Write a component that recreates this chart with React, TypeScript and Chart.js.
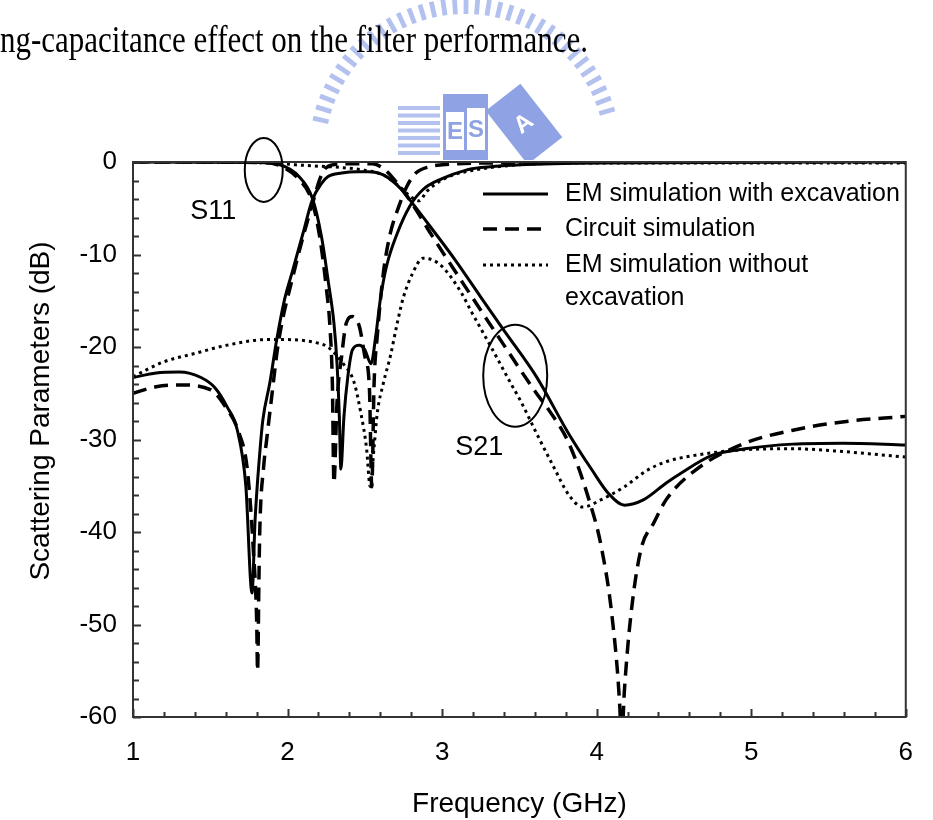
import React, { useEffect, useRef } from "react";
import { Chart, registerables } from "chart.js";

Chart.register(...registerables);

// ---------- text ----------
const CAPTION = "ng-capacitance effect on the filter performance.";
const X_TITLE = "Frequency (GHz)";
const Y_TITLE = "Scattering Parameters (dB)";
const LEGEND_LABELS: string[][] = [
  ["EM simulation with excavation"],
  ["Circuit simulation"],
  ["EM simulation without", "excavation"],
];
const ANNOTATIONS = [
  { text: "S11", x: 1.52, y: -5.4, ex: 1.846, ey: -0.86, rx: 19, ry: 32 },
  { text: "S21", x: 3.24, y: -30.9, ex: 3.473, ey: -23.1, rx: 32, ry: 51 },
];

// ---------- axes ----------
const X_MIN = 1;
const X_MAX = 6;
const Y_MIN = -60;
const Y_MAX = 0;
const X_STEP = 1;
const Y_STEP = 10;
const X_MINOR = 0.2;
const Y_MINOR = 2;

// ---------- data: EM simulation with excavation ----------
const EM_EXC_S21_F = [1.0, 1.15, 1.3, 1.44, 1.53, 1.61, 1.675, 1.73, 1.77, 1.79, 1.82, 1.84, 1.885, 1.93, 1.98, 2.03, 2.1, 2.16, 2.22, 2.26, 2.35, 2.45, 2.52, 2.62, 2.73, 2.81, 2.94, 3.085, 3.25, 3.4, 3.61, 3.82, 3.97, 4.075, 4.18, 4.305, 4.45, 4.54, 4.75, 4.96, 5.27, 5.59, 6.0];
const EM_EXC_S21_DB = [-23.3, -22.8, -22.7, -23.3, -24.4, -26.5, -29.0, -35.0, -46.6, -38.7, -31.5, -27.9, -23.9, -19.2, -14.9, -11.9, -7.7, -4.1, -2.3, -1.6, -1.2, -1.05, -1.05, -1.4, -2.85, -4.5, -7.35, -10.6, -14.6, -18.2, -23.2, -29.4, -33.3, -35.8, -37.1, -36.5, -34.7, -33.7, -31.7, -31.0, -30.5, -30.4, -30.6];
const EM_EXC_S11_F = [1.0, 1.8, 1.95, 2.075, 2.16, 2.22, 2.265, 2.3, 2.32, 2.335, 2.345, 2.365, 2.39, 2.42, 2.465, 2.5, 2.54, 2.57, 2.6, 2.64, 2.71, 2.79, 2.875, 3.0, 3.15, 3.25, 3.5, 4.0, 6.0];
const EM_EXC_S11_DB = [0, -0.05, -0.3, -1.6, -3.9, -8.1, -13.1, -17.4, -21.8, -27.5, -33.2, -27.5, -23.2, -20.3, -19.8, -20.3, -21.8, -18.9, -14.9, -11.3, -7.7, -4.8, -3.0, -1.8, -0.9, -0.6, -0.3, -0.1, 0];

// ---------- data: circuit simulation ----------
const CIRCUIT_S21_F = [1.0, 1.15, 1.3, 1.5, 1.6, 1.686, 1.74, 1.78, 1.8, 1.806, 1.815, 1.82, 1.845, 1.865, 1.9, 1.94, 2.04, 2.11, 2.17, 2.21, 2.25, 2.35, 2.55, 2.62, 2.71, 2.79, 2.94, 3.19, 3.4, 3.61, 3.69, 3.82, 3.95, 4.03, 4.1, 4.15, 4.16, 4.18, 4.22, 4.285, 4.37, 4.45, 4.64, 4.96, 5.27, 5.59, 6.0];
const CIRCUIT_S21_DB = [-25.0, -24.3, -24.1, -24.6, -26.5, -29.3, -33.3, -42.3, -49.5, -55.0, -45.0, -40.0, -33.0, -30.0, -25.0, -19.6, -12.0, -7.5, -4.0, -1.8, -0.6, -0.2, -0.2, -0.7, -2.3, -4.1, -8.1, -14.5, -19.8, -25.0, -26.8, -30.4, -36.5, -41.6, -49.2, -59.0, -63.0, -57.0, -49.2, -42.0, -39.0, -36.5, -33.3, -30.4, -29.0, -28.1, -27.5];
const CIRCUIT_S11_F = [1.0, 1.85, 1.95, 2.07, 2.16, 2.21, 2.25, 2.275, 2.29, 2.3, 2.32, 2.35, 2.38, 2.42, 2.465, 2.5, 2.53, 2.545, 2.56, 2.58, 2.62, 2.665, 2.72, 2.77, 2.83, 2.92, 3.0, 3.3, 6.0];
const CIRCUIT_S11_DB = [0, -0.05, -0.4, -1.8, -4.3, -8.3, -13.5, -18.0, -24.0, -34.7, -26.0, -21.0, -17.4, -16.7, -17.8, -21.0, -24.6, -35.1, -23.9, -18.9, -12.0, -7.7, -4.8, -2.7, -1.2, -0.5, -0.3, -0.1, 0];

// ---------- data: EM simulation without excavation ----------
const EM_NOEXC_S21_F = [1.0, 1.2, 1.4, 1.61, 1.865, 2.0, 2.2, 2.26, 2.36, 2.43, 2.475, 2.51, 2.535, 2.56, 2.58, 2.62, 2.665, 2.71, 2.75, 2.81, 2.875, 2.94, 3.0, 3.06, 3.13, 3.19, 3.25, 3.32, 3.44, 3.51, 3.61, 3.72, 3.82, 3.91, 4.03, 4.18, 4.33, 4.45, 4.64, 4.96, 5.27, 5.59, 6.0];
const EM_NOEXC_S21_DB = [-23.2, -21.6, -20.7, -19.8, -19.2, -19.2, -19.6, -20.0, -21.8, -23.8, -27.2, -30.8, -35.1, -30.8, -27.2, -23.9, -21.0, -17.4, -14.6, -12.0, -10.4, -10.6, -11.3, -12.5, -14.3, -16.2, -18.0, -20.1, -23.8, -25.9, -29.3, -32.9, -36.0, -37.3, -36.5, -35.1, -33.3, -32.4, -31.7, -31.1, -31.0, -31.3, -31.9];
const EM_NOEXC_S11_F = [1.0, 1.9, 2.05, 2.2, 2.35, 2.5, 2.62, 2.72, 2.8, 2.85, 2.9, 2.94, 3.04, 3.2, 3.5, 4.0, 6.0];
const EM_NOEXC_S11_DB = [0, -0.1, -0.3, -0.45, -0.6, -0.9, -1.4, -2.6, -3.8, -4.2, -3.2, -2.6, -1.6, -0.9, -0.3, -0.1, -0.1];

const FONT = '"Liberation Sans", Arial, Helvetica, sans-serif';

const SOLID: number[] = [];
const DASHED = [14, 8];
const DOTTED = [3, 4];

function pts(f: number[], db: number[]) {
  return f.map((x, i) => ({ x, y: db[i] }));
}

function drawLogo(ctx: CanvasRenderingContext2D) {
  ctx.save();
  ctx.beginPath();
  ctx.rect(0, 0, 933, 160);
  ctx.clip();
  const light = "#b3c1ef";
  const dark = "#8ea2e4";
  const cx = 465;
  const cy = 153;
  ctx.fillStyle = light;
  for (let a = 193; a <= 347; a += 4.3) {
    const r = (a * Math.PI) / 180;
    ctx.save();
    ctx.translate(cx + Math.cos(r) * 148, cy + Math.sin(r) * 147);
    ctx.rotate(r);
    ctx.fillRect(-8, -2.4, 16, 4.8);
    ctx.restore();
  }
  // striped building
  ctx.fillStyle = light;
  for (let i = 0; i < 7; i++) ctx.fillRect(398, 106 + i * 7.5, 42, 4);
  // E / S block
  ctx.fillStyle = dark;
  ctx.fillRect(443, 94, 45, 68);
  ctx.fillStyle = "#ffffff";
  ctx.fillRect(446, 112, 18, 38);
  ctx.fillRect(467, 108, 18, 42);
  ctx.fillStyle = dark;
  ctx.font = "bold 24px " + FONT;
  ctx.textAlign = "center";
  ctx.textBaseline = "middle";
  ctx.fillText("E", 455, 132);
  ctx.fillText("S", 476, 130);
  // A block
  ctx.save();
  ctx.translate(524, 124);
  ctx.rotate((-38 * Math.PI) / 180);
  ctx.fillStyle = dark;
  ctx.fillRect(-22, -34, 44, 68);
  ctx.fillStyle = "#ffffff";
  ctx.fillText("A", 0, 0);
  ctx.restore();
  ctx.restore();
}

const decorPlugin = {
  id: "decor",
  beforeDraw(chart: any) {
    const ctx = chart.ctx as CanvasRenderingContext2D;
    ctx.save();
    ctx.fillStyle = "#ffffff";
    ctx.fillRect(0, 0, chart.width, chart.height);
    ctx.restore();
    drawLogo(ctx);
  },
  afterDatasetsDraw(chart: any) {
    const ctx = chart.ctx as CanvasRenderingContext2D;
    const a = chart.chartArea;
    const xs = chart.scales.x;
    const ys = chart.scales.y;
    ctx.save();
    // frame
    ctx.strokeStyle = "#333333";
    ctx.lineWidth = 2;
    ctx.setLineDash([]);
    ctx.strokeRect(a.left, a.top, a.right - a.left, a.bottom - a.top);
    // inward ticks
    ctx.beginPath();
    const nx = Math.round((X_MAX - X_MIN) / X_MINOR);
    for (let i = 0; i <= nx; i++) {
      const v = X_MIN + i * X_MINOR;
      const px = Math.round(xs.getPixelForValue(v)) + 0.5;
      const len = i % Math.round(X_STEP / X_MINOR) === 0 ? 8 : 5;
      ctx.moveTo(px, a.bottom);
      ctx.lineTo(px, a.bottom - len);
    }
    const ny = Math.round((Y_MAX - Y_MIN) / Y_MINOR);
    for (let i = 0; i <= ny; i++) {
      const v = Y_MAX - i * Y_MINOR;
      const py = Math.round(ys.getPixelForValue(v)) + 0.5;
      const len = i % Math.round(Y_STEP / Y_MINOR) === 0 ? 8 : 6;
      ctx.moveTo(a.left, py);
      ctx.lineTo(a.left + len, py);
    }
    ctx.stroke();

    // annotations
    ctx.strokeStyle = "#000000";
    ctx.fillStyle = "#000000";
    ctx.lineWidth = 2;
    ctx.font = "27px " + FONT;
    ctx.textAlign = "center";
    ctx.textBaseline = "middle";
    for (const an of ANNOTATIONS) {
      ctx.beginPath();
      ctx.ellipse(xs.getPixelForValue(an.ex), ys.getPixelForValue(an.ey), an.rx, an.ry, 0, 0, Math.PI * 2);
      ctx.stroke();
      ctx.fillText(an.text, xs.getPixelForValue(an.x), ys.getPixelForValue(an.y));
    }

    // legend
    ctx.font = "25px " + FONT;
    ctx.textAlign = "left";
    ctx.textBaseline = "middle";
    const rows = [194, 229, 265];
    LEGEND_LABELS.forEach((lines, i) => {
      const ds = chart.data.datasets[i];
      const y = rows[i];
      ctx.save();
      ctx.strokeStyle = ds.borderColor;
      ctx.lineWidth = ds.borderWidth;
      ctx.setLineDash(ds.borderDash || []);
      ctx.beginPath();
      ctx.moveTo(483, y);
      ctx.lineTo(548, y);
      ctx.stroke();
      ctx.restore();
      lines.forEach((t, j) => ctx.fillText(t, 565, y + j * 33));
    });

    // axis titles
    ctx.font = "28px " + FONT;
    ctx.textAlign = "center";
    ctx.textBaseline = "middle";
    ctx.fillText(X_TITLE, (a.left + a.right) / 2, 804);
    ctx.save();
    ctx.translate(41, 411);
    ctx.rotate(-Math.PI / 2);
    ctx.fillText(Y_TITLE, 0, 0);
    ctx.restore();
    ctx.restore();
  },
};

export default function App() {
  const ref = useRef<HTMLCanvasElement | null>(null);
  useEffect(() => {
    if (!ref.current) return;
    const mk = (f: number[], db: number[], dash: number[], width: number) => ({
      data: pts(f, db),
      borderColor: "#000000",
      backgroundColor: "#000000",
      borderWidth: width,
      borderDash: dash,
      borderCapStyle: "butt",
      cubicInterpolationMode: "monotone",
      pointRadius: 0,
      fill: false,
    });
    const chart = new Chart(ref.current, {
      type: "line",
      data: {
        datasets: [
          mk(EM_EXC_S21_F, EM_EXC_S21_DB, SOLID, 3),
          mk(CIRCUIT_S21_F, CIRCUIT_S21_DB, DASHED, 3.5),
          mk(EM_NOEXC_S21_F, EM_NOEXC_S21_DB, DOTTED, 3),
          mk(EM_EXC_S11_F, EM_EXC_S11_DB, SOLID, 3),
          mk(CIRCUIT_S11_F, CIRCUIT_S11_DB, DASHED, 3.5),
          mk(EM_NOEXC_S11_F, EM_NOEXC_S11_DB, DOTTED, 3),
        ] as any,
      },
      options: {
        responsive: false,
        animation: false,
        events: [],
        layout: { padding: { left: 0, right: 8, top: 162, bottom: 0 } },
        plugins: { legend: { display: false }, tooltip: { enabled: false }, title: { display: false } },
        scales: {
          x: {
            type: "linear",
            min: X_MIN,
            max: X_MAX,
            afterFit: (s: any) => {
              s.height = 103;
            },
            grid: { display: false, drawTicks: false },
            border: { display: false },
            ticks: {
              stepSize: X_STEP,
              padding: 20,
              maxRotation: 0,
              autoSkip: false,
              color: "#000000",
              font: { family: FONT, size: 26 },
              callback: (v: any) => String(v),
            },
          },
          y: {
            type: "linear",
            min: Y_MIN,
            max: Y_MAX,
            afterFit: (s: any) => {
              s.width = 133;
            },
            grid: { display: false, drawTicks: false },
            border: { display: false },
            ticks: {
              stepSize: Y_STEP,
              padding: 16,
              autoSkip: false,
              color: "#000000",
              font: { family: FONT, size: 26 },
              callback: (v: any) => String(v),
            },
          },
        },
      } as any,
      plugins: [decorPlugin],
    });
    return () => chart.destroy();
  }, []);

  return (
    <div style={{ position: "absolute", left: 0, top: 0, width: 933, height: 820, background: "#fff" }}>
      <canvas ref={ref} width={933} height={820} style={{ position: "absolute", left: 0, top: 0, width: 933, height: 820 }} />
      <div
        style={{
          position: "absolute",
          left: 0,
          top: 21,
          fontFamily: '"Liberation Serif", "Times New Roman", serif',
          fontSize: 31,
          lineHeight: "31px",
          color: "#000",
          whiteSpace: "nowrap",
          transform: "scaleY(1.2)",
          transformOrigin: "left top",
        }}
      >
        {CAPTION}
      </div>
    </div>
  );
}
